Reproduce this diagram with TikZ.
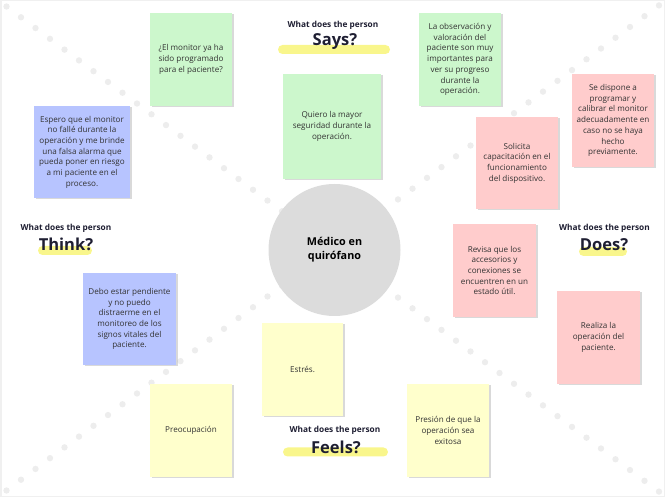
\documentclass[tikz,border=0pt]{standalone}
\usepackage{fontspec}
\setmainfont{Open Sans}
\usetikzlibrary{shadows}
\definecolor{mint}{RGB}{204,247,204}
\definecolor{blush}{RGB}{255,204,204}
\definecolor{lilac}{RGB}{183,196,255}
\definecolor{cream}{RGB}{255,255,204}
\definecolor{fog}{RGB}{220,220,220}
\definecolor{dotgray}{RGB}{237,237,237}
\definecolor{marker}{RGB}{249,246,140}
\definecolor{ink}{RGB}{30,30,50}
\definecolor{pencil}{RGB}{50,50,50}
\tikzset{
  note/.style={fill=#1,minimum width=82pt,minimum height=93pt,inner sep=2pt,align=center,
    font=\fontsize{8.1}{10.7}\selectfont,text=pencil,
    drop shadow={shadow xshift=1.5pt,shadow yshift=-1.5pt,opacity=0.3}},
  note/.default=cream,
  ask/.style={font=\fontsize{8.3}{9}\selectfont\bfseries,text=ink},
  big/.style={font=\fontsize{16.5}{18}\selectfont\bfseries,text=ink},
  bar/.style={fill=marker,rounded corners=4.5pt,minimum height=9pt,inner sep=0pt,minimum width=#1},
}
\begin{document}
\begin{tikzpicture}[x=1pt,y=-1pt]
  \useasboundingbox (0,0) rectangle (665,497);
  \draw[gray!12,line width=1.5pt] (0.75,0.75) rectangle (664.25,496.25);
  % dotted diagonals
  \foreach \i in {0,...,45}{
    \fill[dotgray] (6.5+\i*14.5,6.5+\i*10.78) circle (3.2);
    \fill[dotgray] (6.5+\i*14.5,490.5-\i*10.78) circle (3.2);
  }
  \node[circle,fill=fog,minimum size=132pt,align=center,text=black,
    font=\fontsize{10.8}{14}\selectfont\bfseries] (doc) at (334.5,250) {Médico en\\quirófano};
  % says
  \node[note=mint] (sayq) at (191,59.5) {¿El monitor ya ha\\sido programado\\para el paciente?};
  \node[note=mint,minimum width=98pt,minimum height=105pt] (saysafe) at (332,126.5) {Quiero la mayor\\seguridad durante la\\operación.};
  \node[note=mint] (sayobs) at (460,59.5) {La observación y\\valoración del\\paciente son muy\\importantes para\\ver su progreso\\durante la\\operación.};
  % does
  \node[note=blush] (dodisp) at (613,120.5) {Se dispone a\\programar y\\calibrar el monitor\\adecuadamente en\\caso no se haya\\hecho\\previamente.};
  \node[note=blush,minimum height=92pt] (docap) at (517,163) {Solicita\\capacitación en el\\funcionamiento\\del dispositivo.};
  \node[note=blush,minimum width=83pt] (dorev) at (494.5,270.5) {Revisa que los\\accesorios y\\conexiones se\\encuentren en un\\estado útil.};
  \node[note=blush,minimum width=83pt] (doop) at (598.5,337.5) {Realiza la\\operación del\\paciente.};
  % think
  \node[note=lilac,minimum width=96pt,minimum height=92pt] (thinkfail) at (82,152) {Espero que el monitor\\no fallé durante la\\operación y me brinde\\una falsa alarma que\\pueda poner en riesgo\\a mi paciente en el\\proceso.};
  \node[note=lilac,minimum width=93pt,minimum height=92pt] (thinkwatch) at (129.5,319) {Debo estar pendiente\\y no puedo\\distraerme en el\\monitoreo de los\\signos vitales del\\paciente.};
  % feels
  \node[note,minimum width=81pt] (feelstress) at (302.5,369.5) {Estrés.};
  \node[note] (feelworry) at (191,430.5) {Preocupación};
  \node[note] (feelpress) at (448,430.5) {Presión de que la\\operación sea\\exitosa};
  % headings
  \node[bar=112pt] (saysbar) at (334,49.5) {};
  \node[ask] (saysask) at (333,25) {What does the person};
  \node[big] (says) at (335,42) {Says?};
  \node[bar=54pt] (thinkbar) at (65,250.5) {};
  \node[ask] (thinkask) at (66,228) {What does the person};
  \node[big] (think) at (66,244) {Think?};
  \node[bar=48pt] (doesbar) at (603,251.5) {};
  \node[ask] (doesask) at (604.5,228) {What does the person};
  \node[big] (does) at (604,245) {Does?};
  \node[bar=105pt] (feelsbar) at (335.5,452) {};
  \node[ask] (feelsask) at (335,430) {What does the person};
  \node[big] (feels) at (336,447) {Feels?};
\end{tikzpicture}
\end{document}
